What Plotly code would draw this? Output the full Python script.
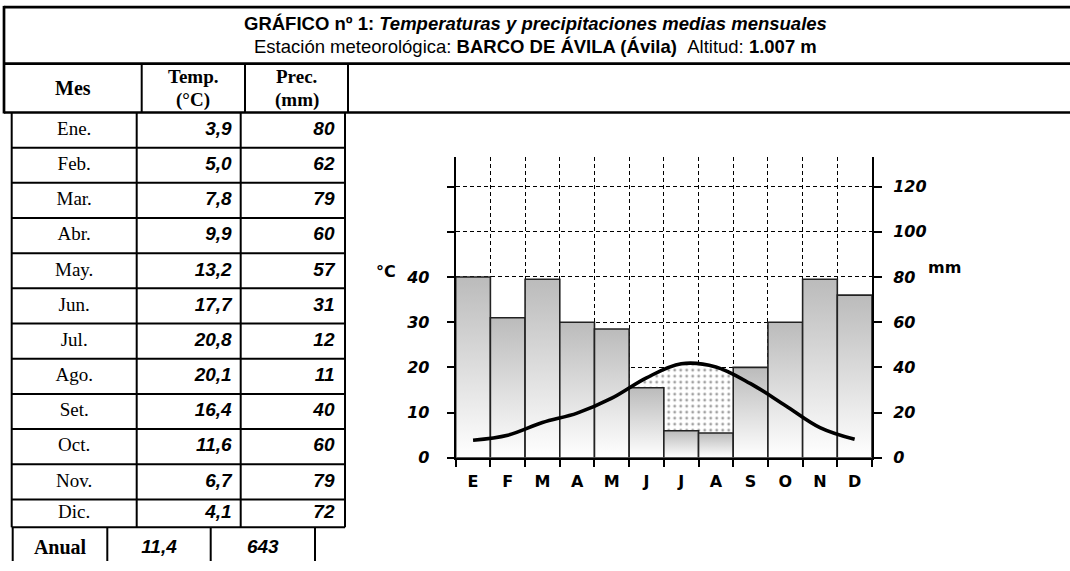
import plotly.graph_objects as go

# ---------------- data ----------------
month_names = ["Ene.", "Feb.", "Mar.", "Abr.", "May.", "Jun.", "Jul.", "Ago.", "Set.", "Oct.", "Nov.", "Dic."]
month_letters = ["E", "F", "M", "A", "M", "J", "J", "A", "S", "O", "N", "D"]
temp_c = [3.9, 5.0, 7.8, 9.9, 13.2, 17.7, 20.8, 20.1, 16.4, 11.6, 6.7, 4.1]
prec_mm = [80, 62, 79, 60, 57, 31, 12, 11, 40, 60, 79, 72]
annual_temp = 11.4
annual_prec = 643
temp_tickvals = [0, 10, 20, 30, 40, 50, 60]
temp_ticktext = ["0", "10", "20", "30", "40", "", ""]
prec_tickvals = [0, 20, 40, 60, 80, 100, 120]


def fmt(v):
    return f"{v:.1f}".replace(".", ",")


W, H = 1070, 571
n = len(month_names)
xs = list(range(n))

# chart placement (pixels)
CX0, CX1 = 455.7, 872.0
CY_BOT, CY_TOP = 466.0, 160.0
TMAX = 66.5

SERIF = "Liberation Serif, Times New Roman, serif"
SANS = "Liberation Sans, Arial, sans-serif"
WIDE = "DejaVu Sans, Verdana, sans-serif"

fig = go.Figure()

# dotted arid area: under temperature curve (hidden by bars where wet)
fig.add_trace(go.Scatter(
    x=xs, y=temp_c, mode="lines",
    line=dict(shape="spline", width=0, color="rgba(0,0,0,0)"),
    fill="tozeroy", fillcolor="white",
    fillpattern=dict(shape=".", fgcolor="#444444", bgcolor="white", size=6, solidity=0.18),
    xaxis="x", yaxis="y", hoverinfo="skip", showlegend=False))

# precipitation bars with vertical gradient
for i, p in enumerate(prec_mm):
    fig.add_trace(go.Scatter(
        x=[i - 0.5, i - 0.5, i + 0.5, i + 0.5, i - 0.5],
        y=[0, p, p, 0, 0],
        mode="lines", fill="toself",
        fillgradient=dict(type="vertical", colorscale=[[0, "#ffffff"], [1, "#bbbbbb"]]),
        line=dict(color="#222222", width=1.6),
        xaxis="x", yaxis="y2", hoverinfo="skip", showlegend=False))

# temperature curve
fig.add_trace(go.Scatter(
    x=xs, y=temp_c, mode="lines",
    line=dict(shape="spline", width=3.6, color="black"),
    xaxis="x", yaxis="y3", hoverinfo="skip", showlegend=False))

# month letters carrier (invisible)
fig.add_trace(go.Scatter(x=xs, y=[None] * n, mode="lines", xaxis="x2", yaxis="y",
                         hoverinfo="skip", showlegend=False))

# ---------------- table ----------------
row_h = 35.8
row_top = 114.5
bounds = [row_top + row_h * i for i in range(n)] + [536.7]
centers = [(bounds[i] + bounds[i + 1]) / 2 for i in range(n)]

col_mes, col_t, col_p, col_end = 11.7, 136.7, 240.7, 345.0

fig.add_trace(go.Scatter(
    x=[(col_mes + col_t) / 2] * n, y=centers, text=month_names, mode="text",
    textposition="middle center",
    textfont=dict(family=SERIF, size=19, color="black"),
    xaxis="x3", yaxis="y4", hoverinfo="skip", showlegend=False))
fig.add_trace(go.Scatter(
    x=[col_p - 9] * n, y=centers, text=[fmt(v) for v in temp_c], mode="text",
    textposition="middle left",
    textfont=dict(family=SANS, size=19, color="black", weight="bold", style="italic"),
    xaxis="x3", yaxis="y4", hoverinfo="skip", showlegend=False))
fig.add_trace(go.Scatter(
    x=[col_end - 10.5] * n, y=centers, text=[str(v) for v in prec_mm], mode="text",
    textposition="middle left",
    textfont=dict(family=SANS, size=19, color="black", weight="bold", style="italic"),
    xaxis="x3", yaxis="y4", hoverinfo="skip", showlegend=False))

# annual row
an_cols = [12.7, 107.3, 210.7, 315.0]
an_y = 558.3
fig.add_trace(go.Scatter(
    x=[(an_cols[0] + an_cols[1]) / 2], y=[an_y], text=["Anual"], mode="text",
    textposition="middle center",
    textfont=dict(family=SERIF, size=20, color="black", weight="bold"),
    xaxis="x3", yaxis="y4", hoverinfo="skip", showlegend=False))
fig.add_trace(go.Scatter(
    x=[(an_cols[1] + an_cols[2]) / 2, (an_cols[2] + an_cols[3]) / 2], y=[an_y, an_y],
    text=[fmt(annual_temp), str(annual_prec)], mode="text",
    textposition="middle center",
    textfont=dict(family=SANS, size=19, color="black", weight="bold", style="italic"),
    xaxis="x3", yaxis="y4", hoverinfo="skip", showlegend=False))

shapes = []


def line(x0, y0, x1, y1, w=2.0):
    shapes.append(dict(type="line", xref="x3", yref="y4", x0=x0, y0=y0, x1=x1, y1=y1,
                       line=dict(color="black", width=w)))


# title box + header
line(4, 7.3, W + 5, 7.3, 2.7)
line(4, 64.8, W + 5, 64.8, 2.7)
line(4, 114.5, W + 5, 114.5, 2.5)
line(4, 6, 4, 115.5, 2.7)
for hx in [141.7, 245.0, 348.0]:
    line(hx, 64.8, hx, 114.5, 2)
# data rows
for b in bounds[1:]:
    line(col_mes, b, col_end, b, 2)
for vx in [col_mes, col_t, col_p, col_end]:
    line(vx, row_top, vx, bounds[-1], 2)
# annual row
for vx in an_cols:
    line(vx, bounds[-1], vx, H + 5, 2)

annotations = [
    dict(xref="x3", yref="y4", x=W / 2, y=23.5, showarrow=False,
         text="<b>GRÁFICO nº 1: <i>Temperaturas y precipitaciones medias mensuales</i></b>",
         font=dict(family=SANS, size=18.5, color="black")),
    dict(xref="x3", yref="y4", x=W / 2, y=47.5, showarrow=False,
         text="Estación meteorológica: <b>BARCO DE ÁVILA (Ávila)</b>\u00a0\u00a0Altitud: <b>1.007 m</b>",
         font=dict(family=SANS, size=18.5, color="black")),
    dict(xref="x3", yref="y4", x=(4 + 141.7) / 2, y=90, showarrow=False, text="<b>Mes</b>",
         font=dict(family=SERIF, size=20, color="black")),
    dict(xref="x3", yref="y4", x=(141.7 + 245) / 2, y=78, showarrow=False, text="<b>Temp.</b>",
         font=dict(family=SERIF, size=19, color="black")),
    dict(xref="x3", yref="y4", x=(141.7 + 245) / 2, y=101.5, showarrow=False, text="<b>(°C)</b>",
         font=dict(family=SERIF, size=19, color="black")),
    dict(xref="x3", yref="y4", x=(245 + 348) / 2, y=78, showarrow=False, text="<b>Prec.</b>",
         font=dict(family=SERIF, size=19, color="black")),
    dict(xref="x3", yref="y4", x=(245 + 348) / 2, y=101.5, showarrow=False, text="<b>(mm)</b>",
         font=dict(family=SERIF, size=19, color="black")),
    dict(xref="x3", yref="y4", x=386, y=276, showarrow=False, text="<b>°C</b>",
         font=dict(family=WIDE, size=16, color="black")),
    dict(xref="x3", yref="y4", x=944, y=272, showarrow=False, text="<b>mm</b>",
         font=dict(family=WIDE, size=16, color="black")),
]

xd = [CX0 / W, CX1 / W]
yd = [1 - CY_BOT / H, 1 - CY_TOP / H]
tickfont_num = dict(family=WIDE, size=16, color="black", weight="bold", style="italic")

fig.update_layout(
    width=W, height=H, autosize=False, margin=dict(l=0, r=0, t=0, b=0, pad=0),
    paper_bgcolor="white", plot_bgcolor="rgba(0,0,0,0)",
    showlegend=False,
    xaxis=dict(domain=xd, range=[-0.5, n - 0.5], anchor="y",
               tickmode="array", tickvals=[i - 0.5 for i in range(n + 1)],
               showticklabels=False, ticks="outside", ticklen=7, tickwidth=2, tickcolor="black",
               showgrid=True, gridcolor="black", gridwidth=1, griddash="4px,3px",
               showline=True, linecolor="black", linewidth=2, zeroline=False, fixedrange=True),
    xaxis2=dict(domain=xd, range=[-0.5, n - 0.5], anchor="y", overlaying="x",
                tickmode="array", tickvals=xs, ticktext=month_letters, ticks="",
                tickfont=dict(family=WIDE, size=16, color="black", weight="bold"),
                ticklabelstandoff=12,
                showgrid=False, showline=False, zeroline=False, fixedrange=True),
    yaxis=dict(domain=yd, range=[0, TMAX], anchor="x",
               tickmode="array", tickvals=temp_tickvals, ticktext=temp_ticktext,
               ticks="outside", ticklen=7, tickwidth=2, tickcolor="black",
               tickfont=tickfont_num, ticklabelstandoff=14,
               showgrid=True, gridcolor="black", gridwidth=1, griddash="4px,3px",
               showline=True, linecolor="black", linewidth=2, zeroline=False, fixedrange=True),
    yaxis2=dict(domain=yd, range=[0, TMAX * 2], anchor="x", overlaying="y", side="right",
                tickmode="array", tickvals=prec_tickvals,
                ticks="outside", ticklen=8, tickwidth=2, tickcolor="black",
                tickfont=tickfont_num, ticklabelstandoff=8,
                showgrid=False, showline=True, linecolor="black", linewidth=2,
                zeroline=False, fixedrange=True),
    yaxis3=dict(domain=yd, range=[0, TMAX], anchor="x", overlaying="y", visible=False,
                fixedrange=True),
    xaxis3=dict(domain=[0, 1], range=[0, W], anchor="y4", visible=False, fixedrange=True),
    yaxis4=dict(domain=[0, 1], range=[H, 0], anchor="x3", visible=False, fixedrange=True),
    shapes=shapes,
    annotations=annotations,
)

post = (
    "document.documentElement.style.margin='0';"
    "document.documentElement.style.padding='0';"
    "document.documentElement.style.overflow='hidden';"
    "document.documentElement.style.height='571px';"
    "document.body.style.margin='0';document.body.style.padding='0';"
    "document.body.style.overflow='hidden';document.body.style.height='571px';"
    "var g=document.querySelector('.plotly-graph-div');"
    "g.style.position='fixed';g.style.left='0px';g.style.top='0px';"
)
fig.write_html("out.html", config={"displayModeBar": False, "responsive": False},
               post_script=post)
